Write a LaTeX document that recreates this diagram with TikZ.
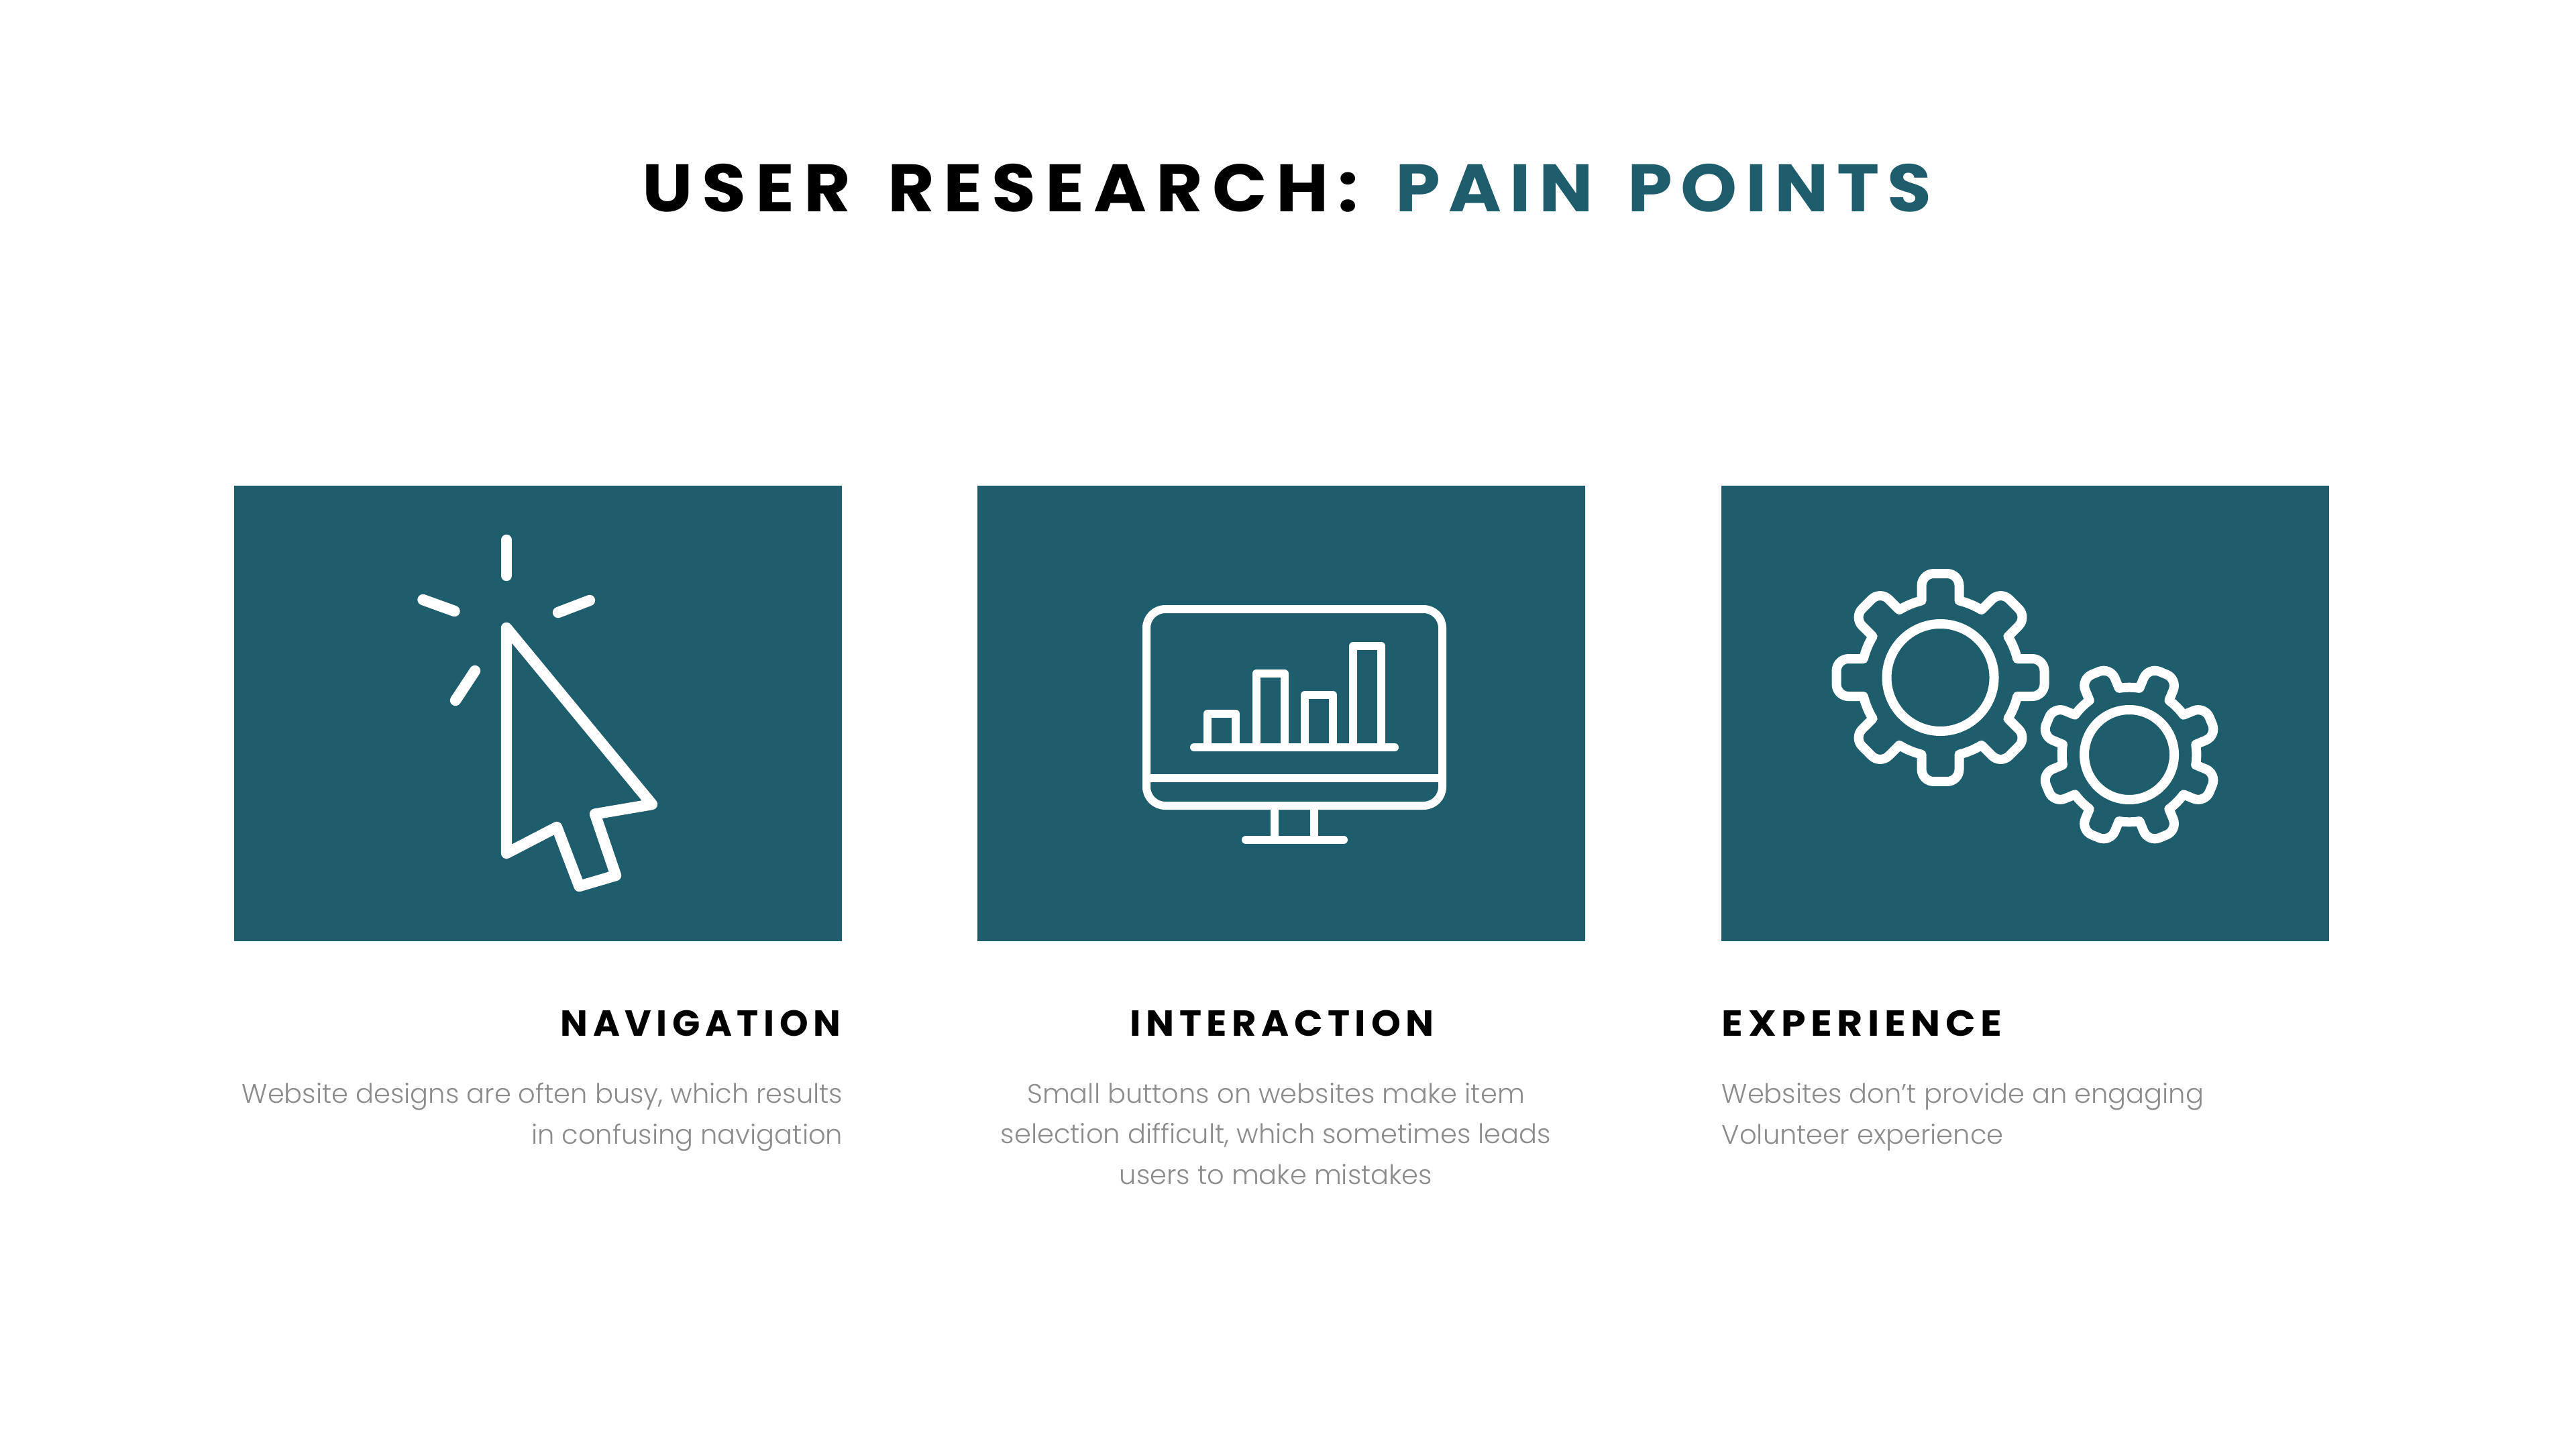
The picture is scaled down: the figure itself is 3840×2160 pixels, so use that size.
\documentclass[tikz,border=0pt]{standalone}
\usepackage{fontspec}
\setmainfont{Poppins}
\newfontfamily\titlef{Poppins}[LetterSpace=14.0,FakeStretch=1.07,WordSpace=1.5]
\newfontfamily\titleg{Poppins}[LetterSpace=12.2,FakeStretch=1.07,WordSpace=1.5]
\newfontfamily\headfa{Poppins}[LetterSpace=14,FakeStretch=1.005]
\newfontfamily\headfb{Poppins}[LetterSpace=14,FakeStretch=1.035]
\newfontfamily\headfc{Poppins}[LetterSpace=14,FakeStretch=1.085]
\newfontfamily\bodyf{Poppins Light}
\definecolor{teal1}{HTML}{1D5D6C}
\definecolor{bodygray}{HTML}{8C8C8C}
\tikzset{
  panel/.style={fill=teal1,draw=none},
  iconline/.style={draw=white,line cap=round,line join=round},
  titletext/.style={font=\titlef\bfseries\fontsize{25pt}{30pt}\selectfont,inner sep=0pt,anchor=base},
  headtext/.style={inner sep=0pt,text=black},
  headsize/.style={font=#1\bfseries\fontsize{13.5pt}{16pt}\selectfont},
  bodytext/.style={font=\bodyf\fontsize{10pt}{15.1pt}\selectfont,inner sep=0pt,text=bodygray},
}
\newcommand{\gearicon}[5]{% cx, cy, scale, rotation, hole radius
  \begin{scope}[shift={(#1,#2)},iconline,line width=3.5pt]
    \draw[xscale=#3,yscale=#3,rotate=#4] ({-13.73}:118)
      \foreach \a in {0,45,...,315} {
        [sharp corners] -- ({\a-13.73}:118)
        [rounded corners=4.5pt] -- ({\a-10.24}:157.5) -- ({\a+10.24}:157.5)
        [sharp corners] -- ({\a+13.73}:118)
        arc[start angle=\a+13.73,end angle=\a+45-13.73,radius=118]
      } -- cycle;
    \draw (0,0) circle[radius=#5];
  \end{scope}
}
\begin{document}
\begin{tikzpicture}[x=0.25pt,y=-0.25pt]
\useasboundingbox (0,0) rectangle (3840,2160);
\fill[white] (0,0) rectangle (3840,2160);

\node[titletext] (title) at (1918.5,316) {USER RESEARCH: \textcolor{teal1}{\titleg\bfseries\fontsize{25pt}{30pt}\selectfont PAIN POINTS}};

\path[panel] (349,724) rectangle (1255,1403);
\path[panel] (1457,724) rectangle (2363,1403);
\path[panel] (2566,724) rectangle (3472,1403);

% cursor icon
\begin{scope}[iconline,line width=4.1pt]
  \draw (755,936) -- (755,1272) -- (830,1233) -- (863.5,1321) -- (918,1305) -- (887,1213.5) -- (972,1199) -- cycle;
  \draw (755,805) -- (755,858);
  \draw (630.5,894) -- (677.5,911);
  \draw (879,895) -- (832,913);
  \draw (708,1000) -- (679,1044);
\end{scope}

% monitor icon
\begin{scope}[iconline,line width=3pt]
  \draw[rounded corners=7pt] (1709,908) rectangle (2150,1201);
  \draw (1709,1160) -- (2150,1160);
  \draw (1900,1201) -- (1900,1252);
  \draw (1959,1201) -- (1959,1252);
  \draw (1857,1252) -- (2003,1252);
  \draw (1780,1114) -- (2079,1114);
  \draw (1800,1114) -- (1800,1064) -- (1842,1064) -- (1842,1114);
  \draw (1872.5,1114) -- (1872.5,1004) -- (1915,1004) -- (1915,1114);
  \draw (1945,1114) -- (1945,1036) -- (1987,1036) -- (1987,1114);
  \draw (2017,1114) -- (2017,963) -- (2059,963) -- (2059,1114);
\end{scope}

% gears
\gearicon{2892.5}{1010}{1}{0}{80}
\gearicon{3174}{1125}{0.85}{22.5}{67}

\node[headtext,headsize=\headfa,anchor=base east] (h1) at (1254,1544) {NAVIGATION};
\node[headtext,headsize=\headfb,anchor=base] (h2) at (1911,1544) {INTERACTION};
\node[headtext,headsize=\headfc,anchor=base west] (h3) at (2566,1544) {EXPERIENCE};

\node[bodytext,align=right,anchor=base east] (b1) at (1257,1705) {Website designs are often busy, which results\\in confusing navigation};
\node[bodytext,align=center,anchor=base] (b2) at (1902,1765) {Small buttons on websites make item\\selection difficult, which sometimes leads\\users to make mistakes};
\node[bodytext,align=left,anchor=base west] (b3) at (2566,1705) {Websites don’t provide an engaging\\Volunteer experience};
\end{tikzpicture}
\end{document}
